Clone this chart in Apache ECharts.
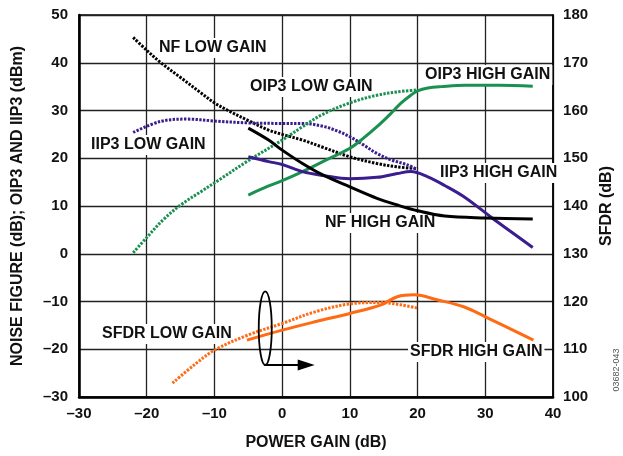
<!DOCTYPE html>
<html>
<head>
<meta charset="utf-8">
<script src="https://cdn.jsdelivr.net/npm/echarts@6/dist/echarts.min.js"></script>
<style>
  html, body { margin: 0; padding: 0; background: #fff; }
  #chart { width: 623px; height: 456px; }
</style>
</head>
<body>
<div id="chart"></div>
<script>
// [power gain (dB), value]
// left axis: NF (dB), OIP3 / IIP3 (dBm)
const nfLow = [[-22, 45.3], [-20, 42.6], [-18, 40.1], [-15, 36.9], [-12, 33.7], [-10, 31.6], [-8, 30], [-5, 27.9], [-2, 25.9], [0, 25.0], [3, 23.8], [6, 22.3], [10, 20.3], [14, 18.9], [17, 18.2], [20, 17.8]]
const nfHigh = [[-5, 26.3], [-2, 23.8], [0, 21.7], [3, 18.9], [6, 16.5], [10, 14.0], [14, 11.6], [17, 10.2], [20, 9.0], [24, 7.9], [30, 7.5], [37, 7.3]]
const iip3Low = [[-22, 25.4], [-18, 27.7], [-14, 28.2], [-10, 27.8], [-5, 27.4], [0, 27.3], [3, 27.3], [6, 26.7], [8, 25.8], [10, 24.5], [12, 22.8], [14, 21.0], [16, 19.7], [18.5, 18.6], [20, 17.6]]
const iip3High = [[-5, 20.3], [-2, 19.3], [0, 18.7], [3, 17.2], [6, 16.4], [10, 15.7], [14, 16.0], [17, 16.8], [19, 17.2], [21.5, 16.1], [24, 14.3], [27, 11.8], [31, 7.5], [34, 4.4], [37, 1.3]]
const oip3Low = [[-22, 0.2], [-20, 3.4], [-17.5, 7.2], [-15, 10.2], [-12, 13.0], [-9.5, 15.3], [-5, 19.5], [0, 23.8], [3, 26.6], [6, 29.2], [10, 31.6], [14, 33.2], [17, 33.9], [20, 34.3]]
const oip3High = [[-5, 12.3], [-2, 14.2], [0, 15.3], [3, 17.2], [6, 19.3], [10, 22.1], [12, 24.2], [14, 26.6], [16, 29.3], [17.5, 31.5], [19, 33.2], [20, 34.1], [21.5, 34.7], [23.5, 35.0], [27, 35.3], [32, 35.3], [37, 35.1]]
// right axis: SFDR (dB)
const sfdrLow = [[-16.2, 102.9], [-13, 106.7], [-10, 109.8], [-5, 113.0], [0, 115.4], [5, 117.9], [10, 119.5], [14.6, 119.8], [17.5, 119.3], [20, 118.6]]
const sfdrHigh = [[-5.2, 111.9], [0, 114.0], [5, 115.8], [10, 117.5], [14.6, 119.3], [17, 121.0], [19.5, 121.4], [23, 120.3], [26.8, 118.9], [30, 116.8], [37.1, 111.9]]

const xRange = [-30, 40]
const yLeftRange = [-30, 50]
const yRightRange = [100, 180]

const FONT = '"Liberation Sans", Arial, Helvetica, sans-serif'
const DOTS = [2.4, 1.4]

const chart = echarts.init(document.getElementById('chart'), null, { renderer: 'canvas' })

const mkLine = (name, data, color, dotted, axis) => ({
  name,
  type: 'line',
  data,
  yAxisIndex: axis || 0,
  smooth: 0.35,
  symbol: 'none',
  silent: true,
  z: 3,
  lineStyle: { color, width: 3, type: dotted ? DOTS : 'solid' }
})

const dash = v => String(v).replace('-', '\u2013')

const option = {
  animation: false,
  backgroundColor: '#fff',
  grid: {
    left: 79, right: 66, top: 15, bottom: 59,
    show: true, borderColor: '#000', borderWidth: 1.5
  },
  xAxis: {
    type: 'value', min: xRange[0], max: xRange[1], interval: 10,
    name: 'POWER GAIN (dB)', nameLocation: 'middle', nameGap: 38,
    nameTextStyle: { fontFamily: FONT, fontWeight: 'bold', fontSize: 16, color: '#111' },
    axisLine: { onZero: false, lineStyle: { color: '#000', width: 2.5 } },
    axisTick: { show: false },
    axisLabel: { fontFamily: FONT, fontWeight: 'bold', fontSize: 15, color: '#111', margin: 9, formatter: dash },
    splitLine: { lineStyle: { color: '#222', width: 1.3 } }
  },
  yAxis: [
    {
      type: 'value', min: yLeftRange[0], max: yLeftRange[1], interval: 10,
      name: 'NOISE FIGURE (dB); OIP3 AND IIP3 (dBm)', nameLocation: 'middle', nameGap: 53,
      nameTextStyle: { fontFamily: FONT, fontWeight: 'bold', fontSize: 16, color: '#111' },
      axisLine: { show: true, onZero: false, lineStyle: { color: '#000', width: 2.5 } },
      axisTick: { show: false },
      axisLabel: { fontFamily: FONT, fontWeight: 'bold', fontSize: 15, color: '#111', margin: 11, formatter: dash },
      splitLine: { lineStyle: { color: '#222', width: 1.3 } }
    },
    {
      type: 'value', min: yRightRange[0], max: yRightRange[1], interval: 10, position: 'right',
      name: 'SFDR (dB)', nameLocation: 'middle', nameGap: 43, nameRotate: 90,
      nameTextStyle: { fontFamily: FONT, fontWeight: 'bold', fontSize: 16, color: '#111' },
      axisLine: { show: true, onZero: false, lineStyle: { color: '#000', width: 1.5 } },
      axisTick: { show: false },
      axisLabel: { fontFamily: FONT, fontWeight: 'bold', fontSize: 15, color: '#111', margin: 10 },
      splitLine: { show: false }
    }
  ],
  series: [
    mkLine('NF LOW GAIN', nfLow, '#000', true),
    mkLine('IIP3 LOW GAIN', iip3Low, '#3a1d8e', true),
    mkLine('OIP3 LOW GAIN', oip3Low, '#1a9150', true),
    mkLine('SFDR LOW GAIN', sfdrLow, '#ff6a13', true, 1),
    mkLine('OIP3 HIGH GAIN', oip3High, '#1a9150', false),
    mkLine('IIP3 HIGH GAIN', iip3High, '#3a1d8e', false),
    mkLine('NF HIGH GAIN', nfHigh, '#000', false),
    mkLine('SFDR HIGH GAIN', sfdrHigh, '#ff6a13', false, 1)
  ]
}

chart.setOption(option)

// curve labels (pixel left edge, centre y)
const labels = [
  ['NF LOW GAIN', 157, 48],
  ['OIP3 LOW GAIN', 248, 87],
  ['OIP3 HIGH GAIN', 423, 75],
  ['IIP3 LOW GAIN', 89, 145],
  ['IIP3 HIGH GAIN', 438, 173],
  ['NF HIGH GAIN', 323, 223],
  ['SFDR LOW GAIN', 100, 334],
  ['SFDR HIGH GAIN', 408, 352]
]

const toPx = p => chart.convertToPixel({ xAxisIndex: 0, yAxisIndex: 0 }, p)

// ellipse + arrow pointing at the right (SFDR) axis
const ellTop = toPx([-2.5, -7.9])
const ellBot = toPx([-2.5, -23.3])
const arrowEnd = toPx([4.8, -23.5])
const cx = ellTop[0]
const cy = (ellTop[1] + ellBot[1]) / 2
const ry = (ellBot[1] - ellTop[1]) / 2
const ay = ellBot[1]

// labels sit over the grid but under the curves
const graphic = labels.map(([t, x, y]) => ({
  type: 'text', x, y, z: 1,
  style: {
    text: t, fill: '#111', font: 'bold 16px ' + FONT,
    verticalAlign: 'middle', backgroundColor: '#fff', padding: [2, 2]
  }
}))

graphic.push(
  {
    type: 'ellipse', z: 50,
    shape: { cx, cy, rx: 6.5, ry },
    style: { fill: 'none', stroke: '#000', lineWidth: 1.8 }
  },
  {
    type: 'line', z: 50,
    shape: { x1: cx - 1, y1: ay, x2: arrowEnd[0] - 14, y2: ay },
    style: { stroke: '#000', lineWidth: 1.8 }
  },
  {
    type: 'polygon', z: 50,
    shape: { points: [[arrowEnd[0], ay], [arrowEnd[0] - 17, ay - 5.5], [arrowEnd[0] - 17, ay + 5.5]] },
    style: { fill: '#000' }
  },
  {
    type: 'text', x: 617, y: 370, rotation: Math.PI / 2, z: 50,
    style: {
      text: '03682-043', fill: '#555', font: '9px ' + FONT,
      align: 'center', verticalAlign: 'middle'
    }
  }
)

chart.setOption({ graphic })
</script>
</body>
</html>
